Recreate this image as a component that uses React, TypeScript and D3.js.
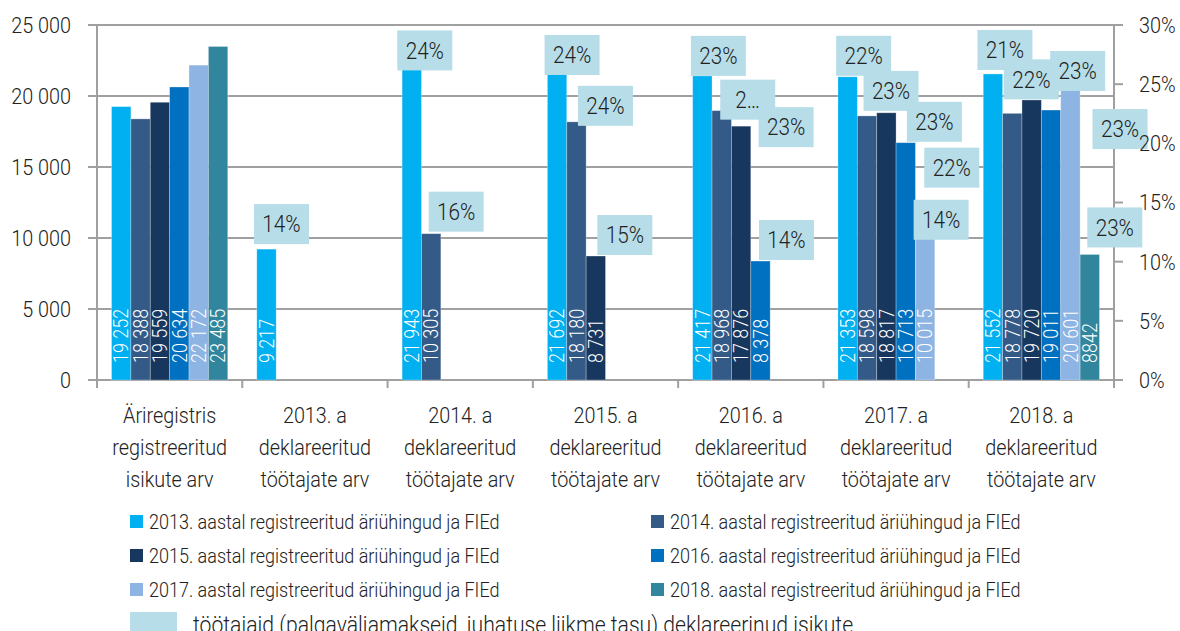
import React from 'react';
import * as d3 from 'd3';

// categories (x axis), each split into lines
const categories = [
  ['Äriregistris', 'registreeritud', 'isikute arv'],
  ['2013. a', 'deklareeritud', 'töötajate arv'],
  ['2014. a', 'deklareeritud', 'töötajate arv'],
  ['2015. a', 'deklareeritud', 'töötajate arv'],
  ['2016. a', 'deklareeritud', 'töötajate arv'],
  ['2017. a', 'deklareeritud', 'töötajate arv'],
  ['2018. a', 'deklareeritud', 'töötajate arv'],
];

const seriesNames = [
  '2013. aastal registreeritud äriühingud ja FIEd',
  '2014. aastal registreeritud äriühingud ja FIEd',
  '2015. aastal registreeritud äriühingud ja FIEd',
  '2016. aastal registreeritud äriühingud ja FIEd',
  '2017. aastal registreeritud äriühingud ja FIEd',
  '2018. aastal registreeritud äriühingud ja FIEd',
];
const shareName = 'töötajaid (palgaväljamakseid, juhatuse liikme tasu) deklareerinud isikute';

// counts per series, one per category
const s2013 = [19252, 9217, 21943, 21692, 21417, 21353, 21552];
const s2014 = [18388, null, 10305, 18180, 18968, 18598, 18778];
const s2015 = [19559, null, null, 8731, 17876, 18817, 19720];
const s2016 = [20634, null, null, null, 8378, 16713, 19011];
const s2017 = [22172, null, null, null, null, 10015, 20601];
const s2018 = [23485, null, null, null, null, null, 8842];
const counts = [s2013, s2014, s2015, s2016, s2017, s2018];

// share of companies that declared employees (%)
const p2013 = [null, 14, 24, 24, 23, 22, 21];
const p2014 = [null, null, 16, 24, 23, 23, 22];
const p2015 = [null, null, null, 15, 23, 23, 23];
const p2016 = [null, null, null, null, 14, 22, 23];
const p2017 = [null, null, null, null, null, 14, null];
const p2018 = [null, null, null, null, null, null, 23];
const shares = [p2013, p2014, p2015, p2016, p2017, p2018];

const leftTicks = [0, 5000, 10000, 15000, 20000, 25000];
const rightTicks = [0, 5, 10, 15, 20, 25, 30];

// label quirks copied from the original (truncated label, unformatted number)
const truncatedLabels = new Set(['1-4']);
const plainNumberLabels = new Set(['5-6']);

// nudges of the share labels away from their default spot (Excel overlap handling)
const labelNudges: Record<string, [number, number]> = {
  '0-1': [0, -5],
  '0-2': [-2, 2], '1-2': [10, -2],
  '0-3': [0, 3], '1-3': [14, 4], '2-3': [14, -1],
  '0-4': [1, 0], '1-4': [11, 9], '2-4': [30, 21], '3-4': [11, -1],
  '0-5': [1, -1], '1-5': [9, -5], '2-5': [33, 29], '3-5': [31, 45], '4-5': [1, 2],
  '0-6': [-3, -4], '1-6': [4, -14], '2-6': [31, -9], '3-6': [54, 39], '5-6': [10, -7],
};

const colors = ['#00B0F0', '#345A87', '#17375E', '#0070C0', '#8DB4E2', '#31859C'];
const boxColor = '#B7DDE8';
const gridColor = '#a0a0a0';
const textColor = '#222';
const FONT = "Roboto, 'Liberation Sans', sans-serif";
const SX = 0.9; // horizontal squeeze to imitate a condensed face

const W = 1180;
const H = 631;
const plot = { left: 97, right: 1114, top: 25, bottom: 380 };

const fmt = d3.formatLocale({ decimal: ',', thousands: ' ', grouping: [3], currency: ['', ''] }).format(',d');

type TProps = {
  x: number;
  y: number;
  size: number;
  anchor?: 'start' | 'middle' | 'end';
  fill?: string;
  rotate?: number;
  dy?: string;
  children: React.ReactNode;
};

const T = ({ x, y, size, anchor = 'start', fill = textColor, rotate = 0, dy, children }: TProps) => (
  <text
    transform={`translate(${x},${y}) rotate(${rotate}) scale(${SX},1)`}
    textAnchor={anchor}
    fontSize={size}
    fontWeight={300}
    fill={fill}
    dy={dy}
  >
    {children}
  </text>
);

export default function App() {
  const x = d3.scaleBand<number>().domain(d3.range(categories.length)).range([plot.left, plot.right]);
  const bw = x.bandwidth();
  const xs = d3.scaleBand<number>().domain(d3.range(seriesNames.length)).range([bw * 0.1, bw * 0.9]);
  const yL = d3.scaleLinear().domain([0, 25000]).range([plot.bottom, plot.top]);
  const yR = d3.scaleLinear().domain([0, 30]).range([plot.bottom, plot.top]);

  const bars: { s: number; c: number; v: number; x: number; y: number }[] = [];
  counts.forEach((arr, s) =>
    arr.forEach((v, c) => {
      if (v == null) return;
      bars.push({ s, c, v, x: (x(c) ?? 0) + (xs(s) ?? 0), y: yL(v) });
    })
  );

  const boxW = 55;
  const boxH = 40;
  const labels: { key: string; cx: number; cy: number; text: string }[] = [];
  d3.range(categories.length).forEach((c) => {
    shares.forEach((arr, s) => {
      const p = arr[c];
      if (p == null) return;
      const key = `${s}-${c}`;
      const v = counts[s][c] as number;
      const [dx, dy] = labelNudges[key] ?? [0, 0];
      const barCx = (x(c) ?? 0) + (xs(s) ?? 0) + xs.bandwidth() / 2;
      labels.push({
        key,
        cx: barCx + 15 + dx,
        cy: yL(v) - boxH / 2 + dy,
        text: truncatedLabels.has(key) ? `${String(p)[0]}…` : `${p}%`,
      });
    });
  });

  const legendRows = [529, 563, 597];
  const legendCols = [130, 651];

  return (
    <svg width={W} height={H} style={{ position: 'absolute', left: 0, top: 0, background: '#fff' }} fontFamily={FONT}>
      {/* gridlines */}
      {leftTicks.map((t) => (
        <line key={`g${t}`} x1={plot.left - 9} x2={plot.right} y1={yL(t)} y2={yL(t)} stroke={gridColor} strokeWidth={2} />
      ))}
      {/* right axis ticks */}
      {rightTicks.map((t) => (
        <line key={`rt${t}`} x1={plot.right} x2={plot.right + 9} y1={yR(t)} y2={yR(t)} stroke={gridColor} strokeWidth={2} />
      ))}
      {/* category ticks */}
      {d3.range(categories.length + 1).map((i) => {
        const xx = plot.left + i * bw;
        return <line key={`ct${i}`} x1={xx} x2={xx} y1={plot.bottom} y2={plot.bottom + 8} stroke={gridColor} strokeWidth={2} />;
      })}
      <line x1={plot.left} x2={plot.left} y1={plot.top} y2={plot.bottom} stroke={gridColor} strokeWidth={2} />
      <line x1={plot.right} x2={plot.right} y1={plot.top} y2={plot.bottom} stroke={gridColor} strokeWidth={2} />

      {/* bars */}
      {bars.map((b) => (
        <rect
          key={`b${b.s}-${b.c}`}
          x={b.x}
          y={b.y}
          width={xs.bandwidth()}
          height={plot.bottom - b.y}
          fill={colors[b.s]}
          stroke="rgba(255,255,255,0.35)"
          strokeWidth={0.8}
        />
      ))}

      {/* value labels inside bars */}
      {bars.map((b) => {
        const key = `${b.s}-${b.c}`;
        return (
          <T key={`v${key}`} x={b.x + xs.bandwidth() / 2} y={plot.bottom - 17} rotate={-90} dy="0.36em" fill="#fff" size={20}>
            {plainNumberLabels.has(key) ? String(b.v) : fmt(b.v)}
          </T>
        );
      })}

      {/* share labels */}
      {labels.map((l) => (
        <g key={`l${l.key}`}>
          <rect x={l.cx - boxW / 2} y={l.cy - boxH / 2} width={boxW} height={boxH} fill={boxColor} />
          <T x={l.cx} y={l.cy} dy="0.36em" anchor="middle" size={23}>
            {l.text}
          </T>
        </g>
      ))}

      {/* left axis labels */}
      {leftTicks.map((t) => (
        <T key={`lt${t}`} x={71} y={yL(t)} dy="0.36em" anchor="end" size={22}>
          {fmt(t)}
        </T>
      ))}
      {/* right axis labels */}
      {rightTicks.map((t) => (
        <T key={`rl${t}`} x={1139} y={yR(t)} dy="0.36em" size={22}>
          {`${t}%`}
        </T>
      ))}

      {/* category labels */}
      {categories.map((lines, c) =>
        lines.map((ln, i) => (
          <T key={`cat${c}-${i}`} x={(x(c) ?? 0) + bw / 2} y={423 + i * 32} anchor="middle" size={22}>
            {ln}
          </T>
        ))
      )}

      {/* legend */}
      {seriesNames.map((name, i) => {
        const lx = legendCols[i % 2];
        const ly = legendRows[Math.floor(i / 2)];
        return (
          <g key={`lg${i}`}>
            <rect x={lx} y={ly - 14} width={13} height={13} fill={colors[i]} />
            <T x={lx + 19} y={ly} size={20}>
              {name}
            </T>
          </g>
        );
      })}
      <rect x={130} y={612} width={47} height={22} fill={boxColor} />
      <T x={193} y={633} size={23.5}>
        {shareName}
      </T>
    </svg>
  );
}
